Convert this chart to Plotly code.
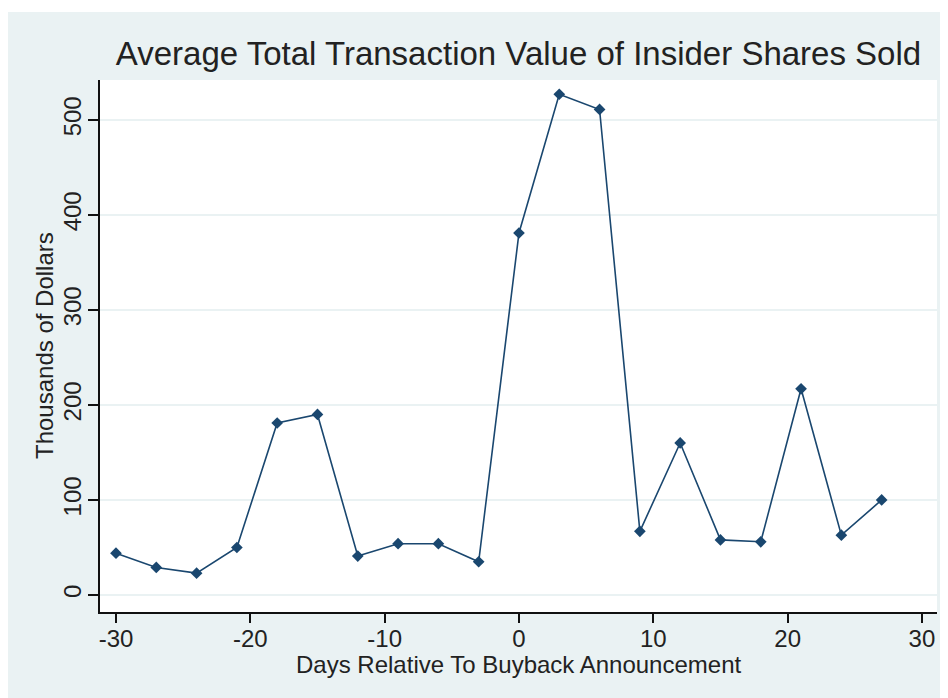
import plotly.graph_objects as go

days = [-30, -27, -24, -21, -18, -15, -12, -9, -6, -3, 0, 3, 6, 9, 12, 15, 18, 21, 24, 27]
value_thousands = [44, 29, 23, 50, 181, 190, 41, 54, 54, 35, 381, 527, 511, 67, 160, 58, 56, 217, 63, 100]

x_ticks = [-30, -20, -10, 0, 10, 20, 30]
y_ticks = [0, 100, 200, 300, 400, 500]

title_text = "Average Total Transaction Value of Insider Shares Sold"
x_title = "Days Relative To Buyback Announcement"
y_title = "Thousands of Dollars"

BG = "#EAF2F3"
NAVY = "#1A476F"
FONT = "Liberation Sans, Arial, sans-serif"
TXT = "#222222"

# page is offset by the 8px body margin
W, H = 940, 690
L, R, T, B = 92, 11, 72, 86
PH = H - T - B
PW = W - L - R

fig = go.Figure()
fig.add_trace(go.Scatter(
    x=days, y=value_thousands, mode="lines+markers",
    line=dict(color=NAVY, width=1.6),
    marker=dict(symbol="diamond", size=9, color=NAVY),
    showlegend=False, hoverinfo="x+y",
))

fig.update_layout(
    width=W, height=H,
    margin=dict(l=L, r=R, t=T, b=B),
    paper_bgcolor=BG,
    plot_bgcolor="white",
    font=dict(family=FONT, color=TXT, size=24),
    title=dict(text=title_text, x=0.5, xref="paper", y=1 - 45 / H, yref="container",
               xanchor="center", yanchor="middle",
               font=dict(family=FONT, size=33, color="#222222")),
    shapes=[dict(type="rect", xref="paper", yref="paper", layer="below",
                 x0=-0.2, x1=1.2, y0=(PH + T - 4) / PH, y1=(PH + T + 10) / PH,
                 fillcolor="white", line=dict(width=0))],
    annotations=[
        dict(text=x_title, xref="paper", yref="paper", x=0.5, y=-52 / PH,
             xanchor="center", yanchor="middle", showarrow=False,
             font=dict(family=FONT, size=24, color=TXT)),
        dict(text=y_title, xref="paper", yref="paper", x=-56 / PW, y=0.5,
             xanchor="center", yanchor="middle", showarrow=False, textangle=-90,
             font=dict(family=FONT, size=24, color=TXT)),
    ],
)

fig.update_xaxes(
    range=[-31.19, 31.12], tickvals=x_ticks, ticktext=[str(v) for v in x_ticks],
    showgrid=False, zeroline=False,
    showline=True, linecolor="#111111", linewidth=1.5,
    ticks="outside", ticklen=9, tickwidth=1.5, tickcolor="#111111",
    ticklabelstandoff=-5,
    tickfont=dict(family=FONT, size=24, color=TXT),
)
fig.update_yaxes(
    range=[-17.9, 542], tickvals=y_ticks, ticktext=[str(v) for v in y_ticks],
    showgrid=True, gridcolor=BG, gridwidth=1.5,
    zeroline=True, zerolinecolor=BG, zerolinewidth=1.5,
    showline=True, linecolor="#111111", linewidth=1.5,
    ticks="outside", ticklen=10, tickwidth=1.5, tickcolor="#111111",
    tickangle=-90, ticklabelstandoff=-2,
    tickfont=dict(family=FONT, size=24, color=TXT),
)

fig.write_html("out.html")
